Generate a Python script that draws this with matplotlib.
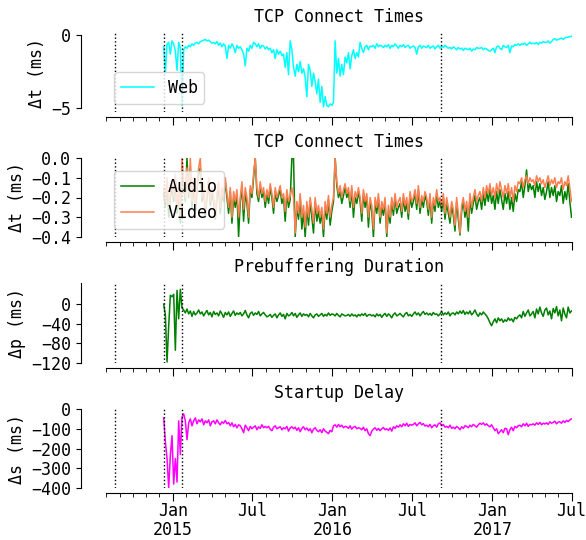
import numpy as np
import pandas as pd
import matplotlib
matplotlib.use("Agg")
import matplotlib.pyplot as plt
import matplotlib.dates as mdates
from matplotlib.ticker import FuncFormatter
from datetime import datetime

plt.rcParams['font.family'] = ['DejaVu Sans Mono', 'DejaVu Sans']
plt.rcParams['font.size'] = 12

# ---------------- data (roughly 8 samples per month, Dec 11 2014 .. Jul 1 2017) -------------
start_date = "2014-12-11"
end_date = "2017-07-01"

web = [
    -0.8, -2.6, -0.6, -0.5, -1.3, -0.4,                   # Dec14
    -0.6, -1.1, -2.4, -0.5, -0.9, -4.8, -1.0, -0.8,       # Jan15
    -0.9, -0.7, -0.8, -0.6, -0.7, -0.55, -0.5, -0.6,
    -0.45, -0.4, -0.35, -0.3, -0.4, -0.35, -0.45, -0.55,
    -0.5, -0.6, -0.45, -0.7, -0.55, -0.8, -0.6, -0.75,
    -1.6, -0.7, -0.9, -0.6, -0.8, -1.2, -0.7, -0.9,
    -0.8, -1.0, -1.3, -2.1, -0.9, -1.1, -0.7, -0.9,
    -0.5, -0.6, -0.8, -0.6, -0.9, -0.7, -0.75, -0.95,
    -0.8, -1.0, -0.9, -1.2, -1.0, -1.6, -1.0, -1.3,
    -1.1, -1.4, -1.3, -2.2, -1.2, -2.7, -0.4, -1.0,
    -2.2, -2.8, -2.0, -2.5, -1.8, -2.6, -2.3, -2.9,
    -4.2, -2.0, -2.4, -3.5, -2.6, -3.2, -4.0, -3.0,
    -4.6, -3.5, -4.9, -4.2, -4.8, -4.9, -4.7, -4.8,
    -4.6, -0.4, -2.6, -1.6, -2.8, -2.0, -2.7, -1.5,       # Jan16
    -1.9, -1.2, -2.3, -1.4, -1.0, -1.6, -1.2, -1.5,
    -0.5, -0.9, -1.2, -0.8, -0.7, -1.0, -0.75, -0.8,
    -0.7, -0.9, -0.6, -0.8, -0.7, -0.75, -0.85, -0.7,
    -0.8, -0.65, -0.9, -0.7, -0.8, -0.6, -0.75, -0.9,
    -0.7, -0.8, -0.65, -0.85, -0.75, -0.7, -0.9, -0.8,
    -0.75, -0.85, -1.3, -0.8, -0.7, -0.9, -0.75, -0.8,
    -0.85, -0.7, -0.9, -0.8, -0.75, -0.95, -0.8, -0.7,
    -0.9, -0.75, -0.85, -0.7, -0.8, -0.9, -0.85, -0.95,
    -0.8, -0.9, -1.0, -0.85, -0.95, -0.9, -1.05, -0.9,
    -0.95, -1.0, -0.9, -1.1, -0.95, -1.0, -0.85, -0.9,
    -0.9, -0.85, -1.0, -0.9, -0.95, -1.05, -1.1, -1.0,
    -0.9, -1.2, -0.8, -0.75, -0.9, -1.0, -0.7, -0.8,      # Jan17
    -0.85, -0.7, -1.2, -0.75, -0.8, -0.65, -0.7, -0.6,
    -0.7, -0.6, -0.65, -0.55, -0.7, -0.6, -0.5, -0.6,
    -0.55, -0.6, -0.5, -0.65, -0.5, -0.55, -0.45, -0.5,
    -0.5, -0.4, -0.55, -0.45, -0.3, -0.25, -0.35, -0.3,
    -0.25, -0.2, -0.3, -0.2, -0.15, -0.15, -0.1, -0.1,
]

audio = [
    -0.18, -0.25, -0.12, -0.3, -0.2, -0.15,
    -0.22, -0.1, -0.28, -0.18, -0.33, -0.05, -0.15, -0.22,
    0.0, -0.2, -0.05, -0.25, -0.12, -0.28, -0.17, -0.08,
    -0.05, -0.22, -0.15, -0.3, -0.2, -0.12, -0.24, -0.18,
    -0.22, -0.31, -0.2, -0.15, -0.28, -0.18, -0.22, -0.12,
    -0.2, -0.28, -0.17, -0.33, -0.2, -0.25, -0.18, -0.4,
    -0.22, -0.15, -0.32, -0.18, -0.23, -0.33, -0.16, -0.2,
    -0.1, 0.0, -0.18, -0.22, -0.14, -0.2, -0.17, -0.25,
    -0.18, -0.23, -0.15, -0.2, -0.28, -0.17, -0.22, -0.19,
    -0.16, -0.23, -0.2, -0.32, -0.18, -0.25, -0.21, 0.0,
    0.0, -0.4, -0.25, -0.31, -0.2, -0.36, -0.27, -0.4,
    -0.25, -0.34, -0.22, -0.3, -0.38, -0.22, -0.32, -0.27,
    -0.33, -0.28, -0.4, -0.25, -0.31, -0.21, -0.34, -0.27,
    -0.22, 0.0, -0.14, -0.2, -0.17, -0.23, -0.19, -0.15,
    -0.2, -0.17, -0.25, -0.16, -0.3, -0.2, -0.23, -0.17,
    -0.22, -0.32, -0.18, -0.25, -0.2, -0.35, -0.22, -0.27,
    -0.4, -0.22, -0.28, -0.2, -0.33, -0.25, -0.29, -0.22,
    -0.4, -0.27, -0.33, -0.22, -0.29, -0.2, -0.28, -0.25,
    -0.23, -0.3, -0.2, -0.27, -0.23, -0.31, -0.19, -0.25,
    -0.22, -0.18, -0.26, -0.16, -0.28, -0.21, -0.25, -0.19,
    -0.22, -0.29, -0.2, -0.33, -0.22, -0.27, -0.18, -0.25,
    -0.22, -0.27, -0.2, -0.31, -0.23, -0.28, -0.33, -0.24,
    -0.29, -0.37, -0.22, -0.31, -0.39, -0.27, -0.22, -0.3,
    -0.25, -0.37, -0.2, -0.28, -0.23, -0.19, -0.26, -0.22,
    -0.2, -0.26, -0.18, -0.24, -0.17, -0.22, -0.16, -0.23,
    -0.19, -0.26, -0.17, -0.23, -0.16, -0.21, -0.26, -0.18,
    -0.23, -0.17, -0.26, -0.2, -0.27, -0.18, -0.22, -0.16,
    -0.17, -0.12, -0.2, -0.14, -0.06, -0.17, -0.13, -0.16,
    -0.14, -0.2, -0.12, -0.17, -0.13, -0.19, -0.15, -0.21,
    -0.17, -0.12, -0.2, -0.15, -0.19, -0.14, -0.22, -0.17,
    -0.19, -0.14, -0.23, -0.17, -0.21, -0.13, -0.22, -0.3,
]

video = [
    -0.15, -0.22, -0.1, -0.25, -0.18, -0.12,
    -0.2, -0.08, -0.25, -0.15, -0.3, 0.0, -0.12, -0.2,
    -0.05, -0.18, 0.0, -0.22, -0.1, -0.25, -0.15, -0.05,
    0.0, -0.2, -0.12, -0.28, -0.18, -0.1, -0.22, -0.15,
    -0.2, -0.3, -0.18, -0.12, -0.25, -0.15, -0.2, -0.1,
    -0.18, -0.25, -0.15, -0.3, -0.17, -0.22, -0.16, -0.3,
    -0.2, -0.12, -0.26, -0.15, -0.2, -0.3, -0.14, -0.18,
    -0.08, 0.0, -0.15, -0.2, -0.12, -0.18, -0.15, -0.22,
    -0.16, -0.2, -0.13, -0.18, -0.25, -0.15, -0.2, -0.17,
    -0.14, -0.2, -0.18, -0.27, -0.16, -0.22, -0.19, -0.15,
    -0.2, -0.38, -0.22, -0.28, -0.18, -0.3, -0.24, -0.35,
    -0.22, -0.3, -0.2, -0.26, -0.33, -0.2, -0.28, -0.24,
    -0.3, -0.25, -0.36, -0.22, -0.28, -0.19, -0.3, -0.24,
    -0.2, 0.0, -0.12, -0.18, -0.14, -0.2, -0.16, -0.13,
    -0.18, -0.15, -0.22, -0.14, -0.25, -0.17, -0.2, -0.15,
    -0.2, -0.28, -0.16, -0.22, -0.18, -0.3, -0.2, -0.24,
    -0.36, -0.2, -0.25, -0.18, -0.3, -0.22, -0.26, -0.2,
    -0.38, -0.24, -0.3, -0.2, -0.26, -0.18, -0.25, -0.22,
    -0.2, -0.27, -0.18, -0.24, -0.2, -0.28, -0.17, -0.22,
    -0.2, -0.16, -0.23, -0.14, -0.25, -0.19, -0.22, -0.17,
    -0.2, -0.26, -0.18, -0.3, -0.2, -0.24, -0.16, -0.22,
    -0.2, -0.24, -0.18, -0.28, -0.2, -0.25, -0.3, -0.22,
    -0.26, -0.34, -0.2, -0.28, -0.38, -0.24, -0.2, -0.27,
    -0.22, -0.3, -0.18, -0.25, -0.2, -0.16, -0.22, -0.19,
    -0.17, -0.22, -0.15, -0.2, -0.14, -0.18, -0.13, -0.19,
    -0.15, -0.2, -0.13, -0.18, -0.12, -0.16, -0.2, -0.14,
    -0.18, -0.13, -0.2, -0.15, -0.22, -0.14, -0.17, -0.12,
    -0.13, -0.1, -0.15, -0.11, -0.09, -0.13, -0.1, -0.12,
    -0.11, -0.14, -0.09, -0.12, -0.1, -0.13, -0.11, -0.15,
    -0.12, -0.09, -0.14, -0.11, -0.13, -0.1, -0.15, -0.12,
    -0.13, -0.1, -0.16, -0.12, -0.14, -0.09, -0.15, -0.22,
]

prebuffering = [
    0, -22, -118, -45, 18, 15,
    20, -94, 28, -30, 30, -8, -12, -18,
    -10, -20, -14, -25, -15, -22, -18, -12,
    -20, -16, -24, -18, -13, -22, -17, -26,
    -15, -21, -18, -24, -14, -20, -27, -17,
    -22, -16, -25, -19, -14, -23, -18, -21,
    -17, -24, -20, -13, -22, -28, -19, -16,
    -23, -18, -21, -15, -24, -20, -17, -22,
    -26, -24, -21, -27, -23, -20, -28, -22,
    -18, -25, -21, -30, -19, -24, -22, -17,
    -24, -19, -27, -22, -18, -25, -20, -23,
    -21, -26, -19, -24, -28, -22, -20, -25,
    -22, -19, -25, -21, -24, -18, -23, -20,
    -21, -24, -19, -23, -26, -20, -22, -24,
    -23, -21, -25, -20, -24, -22, -26, -21,
    -24, -20, -23, -19, -25, -22, -21, -24,
    -22, -26, -20, -24, -21, -27, -22, -19,
    -25, -20, -23, -28, -21, -18, -24, -22,
    -19, -23, -26, -20, -17, -24, -21, -25,
    -20, -16, -22, -18, -24, -19, -15, -21,
    -18, -22, -19, -23, -17, -21, -20, -24,
    -20, -15, -22, -18, -21, -16, -24, -19,
    -18, -22, -16, -20, -14, -19, -13, -21,
    -16, -20, -14, -22, -18, -12, -20, -25,
    -18, -22, -16, -20, -24, -30, -38, -44,
    -36, -30, -38, -28, -34, -30, -37, -32,
    -35, -28, -33, -30, -36, -27, -30, -25,
    -22, -28, -15, -25, -18, -12, -24, -20,
    -15, -28, -10, -20, -6, -18, -25, -12,
    -8, -22, -14, -30, -9, -18, -5, -24,
    -12, -34, -8, -20, -28, -6, -18, -14,
]

startup = [
    -45, -165, -250, -400, -235, -135,
    -380, -250, -370, -60, -230, -40, -25, -60,
    -155, -70, -50, -85, -60, -45, -75, -55,
    -65, -50, -80, -60, -70, -55, -85, -65,
    -60, -75, -55, -70, -80, -65, -72, -58,
    -75, -68, -85, -70, -90, -78, -95, -80,
    -85, -100, -120, -82, -95, -110, -88, -100,
    -92, -85, -105, -90, -98, -80, -95, -88,
    -95, -88, -102, -110, -92, -85, -100, -95,
    -90, -105, -95, -100, -88, -112, -96, -90,
    -100, -92, -108, -95, -115, -98, -90, -105,
    -96, -110, -100, -120, -102, -95, -108, -115,
    -105, -120, -100, -112, -118, -125, -108, -115,
    -85, -80, -92, -78, -90, -82, -95, -88,
    -90, -98, -85, -102, -92, -88, -100, -95,
    -98, -105, -92, -110, -100, -125, -135, -112,
    -102, -95, -108, -98, -110, -100, -94, -105,
    -100, -108, -96, -112, -90, -98, -85, -92,
    -80, -90, -75, -85, -72, -88, -78, -82,
    -78, -70, -85, -75, -68, -80, -74, -86,
    -82, -90, -78, -95, -85, -80, -92, -75,
    -70, -85, -78, -92, -88, -95, -82, -98,
    -92, -100, -88, -95, -105, -90, -98, -85,
    -88, -95, -82, -90, -78, -85, -92, -80,
    -72, -78, -70, -82, -75, -85, -90, -80,
    -95, -110, -100, -125, -115, -105, -120, -98,
    -100, -130, -105, -92, -110, -88, -95, -85,
    -82, -90, -75, -85, -72, -88, -78, -80,
    -75, -82, -70, -78, -68, -80, -72, -76,
    -70, -78, -65, -72, -68, -62, -75, -66,
    -65, -72, -60, -68, -58, -64, -55, -50,
]

event_dates = ["2014-08-22", "2014-12-11", "2015-01-23", "2016-09-05"]
titles = ["TCP Connect Times", "TCP Connect Times", "Prebuffering Duration", "Startup Delay"]
ylabels = ["Δt (ms)", "Δt (ms)", "Δp (ms)", "Δs (ms)"]


def dates_for(vals):
    return pd.date_range(start_date, end_date, periods=len(vals))


# ---------------- figure ----------------
W, H = 586, 540
fig = plt.figure(figsize=(W / 100, H / 100), dpi=100)

left_px, right_px = 106, 571.5
panels_px = [(33, 112), (158, 237), (283, 363), (409, 488)]
axes = []
for (t, b) in panels_px:
    ax = fig.add_axes([left_px / W, 1 - b / H, (right_px - left_px) / W, (b - t) / H])
    axes.append(ax)

ax1, ax2, ax3, ax4 = axes

ax1.plot(dates_for(web), web, color="#00ffff", lw=1.1, label="Web")
ax2.plot(dates_for(audio), audio, color="#008000", lw=1.1, label="Audio")
ax2.plot(dates_for(video), video, color="#ff7f50", lw=1.1, label="Video")
ax3.plot(dates_for(prebuffering), prebuffering, color="#008000", lw=1.1)
ax4.plot(dates_for(startup), startup, color="#ff00ff", lw=1.1)

ax1.set_ylim(-5.25, 0.14)
ax1.set_yticks([0, -5])
ax2.set_ylim(-0.4, 0.0)
ax2.set_yticks([0.0, -0.1, -0.2, -0.3, -0.4])
ax3.set_ylim(-120, 43)
ax3.set_yticks([0, -40, -80, -120])
ax4.set_ylim(-400, 0)
ax4.set_yticks([0, -100, -200, -300, -400])

xmin, xmax = datetime(2014, 8, 1), datetime(2017, 7, 1)


def fmt(x, pos):
    d = mdates.num2date(x)
    if d.month == 1:
        return "Jan\n%d" % d.year
    return d.strftime("%b")


for i, ax in enumerate(axes):
    for d in event_dates:
        ax.axvline(pd.Timestamp(d), color="black", ls=":", lw=1.0)
    ax.set_xlim(xmin, xmax)
    ax.xaxis.set_major_locator(mdates.MonthLocator(bymonth=[1, 7]))
    ax.xaxis.set_minor_locator(mdates.MonthLocator())
    ax.xaxis.set_major_formatter(FuncFormatter(fmt))
    ax.tick_params(axis="x", which="major", length=5.5, pad=1.5)
    ax.tick_params(axis="x", which="minor", length=3)
    if i < 3:
        ax.tick_params(axis="x", which="both", labelbottom=False)
    else:
        for lab in ax.get_xticklabels():
            lab.set_linespacing(1.05)
    ax.spines["top"].set_visible(False)
    ax.spines["right"].set_visible(False)
    ax.spines["left"].set_position(("outward", 18))
    ax.spines["bottom"].set_position(("outward", 3.3))
    ax.set_title(titles[i], fontsize=12, pad=8)
    ax.set_ylabel(ylabels[i], fontsize=12)

ax1.spines["left"].set_bounds(-5, 0)

ax1.legend(loc="lower left", fontsize=12)
ax2.legend(loc="lower left", fontsize=12)

fig.canvas.draw()
for lab in ax4.get_xticklabels():
    lab.set_linespacing(1.05)

fig.savefig("out.png", dpi=100)
